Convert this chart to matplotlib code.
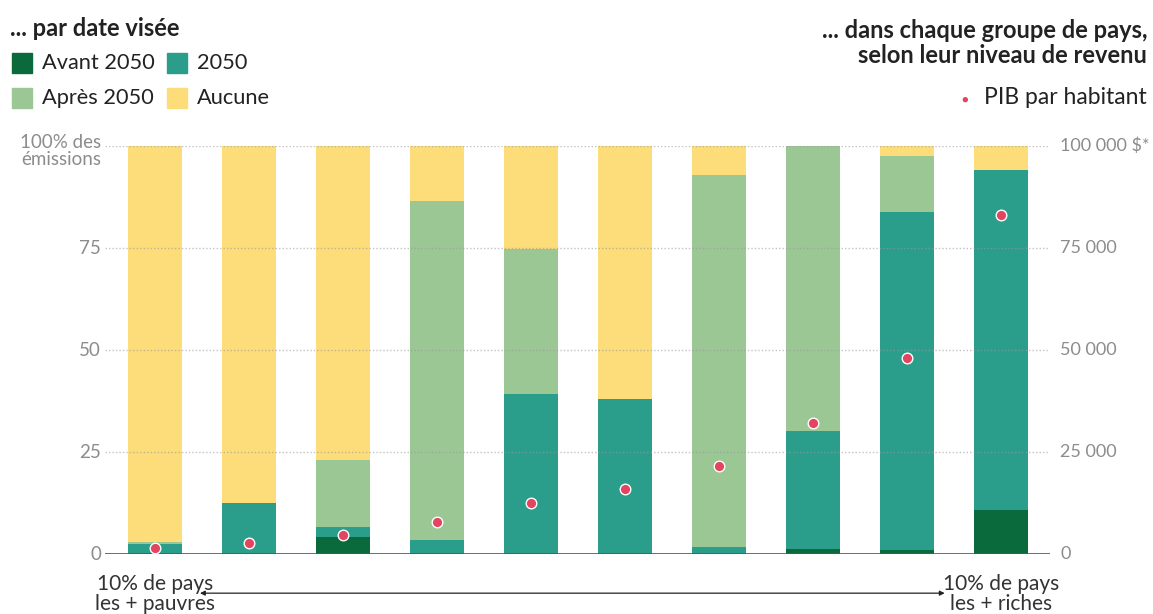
import numpy as np
import matplotlib
matplotlib.use("Agg")
import matplotlib.pyplot as plt
from matplotlib.patches import Rectangle

plt.rcParams['font.family'] = ['Lato', 'DejaVu Sans']

# share of emissions (%) per income decile, by target date
groups = list(range(10))
avant = [0, 0, 4.2, 0, 0, 0, 0, 1.2, 1.0, 10.8]
en_2050 = [2.4, 12.5, 2.4, 3.4, 39.2, 38.0, 1.7, 28.9, 82.8, 83.4]
apres = [0.5, 0, 16.4, 83.1, 35.6, 0, 91.3, 69.9, 13.7, 0]
aucune = [97.1, 87.5, 77.0, 13.5, 25.2, 62.0, 7.0, 0, 2.5, 5.8]
# GDP per capita ($)
pib = [1500, 2700, 4600, 7800, 12500, 16000, 21600, 32000, 48000, 83000]

series_names = ["Avant 2050", "2050", "Après 2050", "Aucune"]
colors = ["#0b6a3b", "#2b9e8b", "#9bc795", "#fddc7a"]
left_labels = ["0", "25", "50", "75", "100% des\némissions"]
right_labels = ["0", "25 000", "50 000", "75 000", "100 000 $*"]

fig = plt.figure(figsize=(11.53, 6.14), dpi=100)
ax = fig.add_axes([105/1153, 60/614, 945/1153, 408/614])
ax2 = ax.twinx()

x = np.array(groups)
bottom = np.zeros(len(x))
for vals, col in zip([avant, en_2050, apres, aucune], colors):
    ax.bar(x, vals, width=0.575, bottom=bottom, color=col, zorder=2)
    bottom += np.array(vals)

ax.set_xlim(-0.53, 9.52)
ax.set_ylim(0, 100)
ax2.set_ylim(0, 100000)

# dotted grid
for v in [25, 50, 75, 100]:
    ax.axhline(v, color="#9a9a9a", ls=(0, (1, 1.5)), lw=1, alpha=0.6, zorder=3)
ax.axhline(0, color="#555555", lw=1.2, zorder=4)

ax2.scatter(x, pib, s=58, color="#e3445f", edgecolor="white", linewidth=1.0, zorder=5)

for a in (ax, ax2):
    a.set_xticks([])
    a.set_yticks([])
    for s in a.spines.values():
        s.set_visible(False)

tick_vals = [0, 25, 50, 75, 100]
for v, lab in zip(tick_vals, left_labels):
    va = "top" if "\n" in lab else "center"
    yy = v + 2.9 if "\n" in lab else v
    ax.text(-0.57, yy, lab, ha="right", va=va, fontsize=13.5, color="#8c8c8c",
            linespacing=1.0)
for v, lab in zip(tick_vals, right_labels):
    ax.text(9.63, v, lab, ha="left", va="center", fontsize=13, color="#8c8c8c")

# bottom annotation
ax.annotate("", xy=(8.4, -9.6), xytext=(0.48, -9.6), xycoords="data",
            arrowprops=dict(arrowstyle="<|-|>", color="#222222", lw=0.9,
                            mutation_scale=7, shrinkA=0, shrinkB=0),
            annotation_clip=False)
ax.text(0, -4.8, "10% de pays\nles + pauvres", ha="center", va="top", fontsize=15,
        color="#333333", linespacing=1.0)
ax.text(9, -4.8, "10% de pays\nles + riches", ha="center", va="top", fontsize=15,
        color="#333333", linespacing=1.0)

# headers and legend
fig.text(10/1153, 1 - 28/614, "... par date visée", ha="left", va="center",
         fontsize=17, fontweight="bold", color="#222222")
leg_pos = [(12, 63), (167, 63), (12, 98), (167, 98)]
for (px, py), name, col in zip(leg_pos, series_names, colors):
    fig.patches.append(Rectangle((px/1153, 1 - (py + 10)/614), 20/1153, 20/614,
                                 transform=fig.transFigure, color=col))
    fig.text((px + 30)/1153, 1 - py/614, name, ha="left", va="center",
             fontsize=15.7, color="#222222")

fig.text(1147/1153, 1 - 43/614, "... dans chaque groupe de pays,\nselon leur niveau de revenu",
         ha="right", va="center", fontsize=17, fontweight="bold", color="#222222",
         linespacing=1.1)
fig.text(1147/1153, 1 - 98/614, "PIB par habitant", ha="right", va="center",
         fontsize=16.5, color="#222222")
fig.text(965/1153, 1 - 99/614, "●", ha="center", va="center", fontsize=8, color="#e3445f")

fig.savefig("out.png", dpi=100)
